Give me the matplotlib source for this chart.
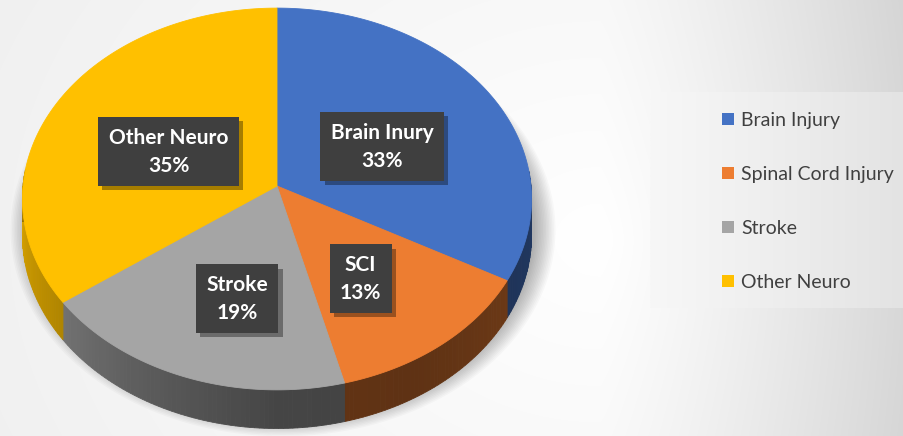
import numpy as np
import matplotlib
matplotlib.use("Agg")
import matplotlib.pyplot as plt
from matplotlib.patches import Polygon, Patch
import matplotlib.colors as mcolors
import matplotlib.patheffects as pe

# ---------------- data ----------------
categories = ["Brain Injury", "Spinal Cord Injury", "Stroke", "Other Neuro"]
data_labels = ["Brain Inury", "SCI", "Stroke", "Other Neuro"]
values = [33, 13, 19, 35]
colors = ["#4472C4", "#ED7D31", "#A5A5A5", "#FFC000"]

# ---------------- layout ----------------
W, H = 904, 436
fig = plt.figure(figsize=(W / 100, H / 100), dpi=100)
ax = fig.add_axes([0, 0, 1, 1])
ax.set_axis_off()

# background radial gradient
yy, xx = np.mgrid[0:H, 0:W]
d = np.hypot(xx - 600, (yy - 240) / 0.8)
L = 255 - 0.022 * d - 32 * np.clip((xx - 600) / 300, 0, None) ** 1.2
L = np.clip(L, 0, 255) / 255
ax.imshow(np.dstack([L, L, L]), extent=[0, W, H, 0], aspect="auto", zorder=0)

# legend panel gradient
lx0, lx1, ly0, ly1 = 650, W, 93, 308
gx = np.linspace(0, 1, 200)
gv = (247 - 20 * gx ** 1.1) / 255
panel = np.dstack([np.tile(gv, (20, 1))] * 3)
ax.imshow(panel, extent=[lx0, lx1, ly1, ly0], aspect="auto", zorder=1)
ax.set_xlim(0, W)
ax.set_ylim(H, 0)

# pseudo-3D pie geometry
cx, cy = 277, 186
a, b = 254, 190
k = 0.068
depth = 36


def proj(theta_deg, r=1.0, dz=0.0, dx=0.0):
    t = np.radians(theta_deg)
    x = r * np.cos(t)
    y = r * np.sin(t)
    s = 1.0 / (1.0 + k * y)
    return cx + dx + a * x * s, cy - b * y * s + dz * s


# soft shadow
full = np.linspace(0, 360, 361)
for r in np.linspace(1.07, 0.99, 14):
    X, Y = proj(full, r=r, dz=depth * 0.8, dx=6)
    ax.add_patch(Polygon(np.column_stack([X, Y]), closed=True,
                         facecolor="black", edgecolor="none", alpha=0.025, zorder=2))

# slice angles
total = float(sum(values))
starts, ends = [], []
ang = 90.0
for v in values:
    starts.append(ang)
    ang -= 360.0 * v / total
    ends.append(ang)

# side shading
shade_t = [-180, -150, -120, -90, -60, -30, 0]
shade_f = [0.85, 0.72, 0.56, 0.42, 0.40, 0.45, 0.50]


def shade(theta):
    t = ((theta + 180) % 360) - 180
    return np.interp(t, shade_t, shade_f)


for t0, t1, col in zip(starts, ends, colors):
    base = np.array(mcolors.to_rgb(col))
    n = max(4, int(abs(t1 - t0) / 1.0))
    th = np.linspace(t0, t1, n + 1)
    for j in range(n):
        tm = 0.5 * (th[j] + th[j + 1])
        if np.sin(np.radians(tm)) > 0.08:
            continue
        xt, yt = proj(np.array([th[j], th[j + 1]]))
        xb, yb = proj(np.array([th[j + 1], th[j]]), dz=depth)
        c = np.clip(base * shade(tm), 0, 1)
        ax.add_patch(Polygon(np.column_stack([np.r_[xt, xb], np.r_[yt, yb]]), closed=True,
                             facecolor=c, edgecolor=c, linewidth=0.6, zorder=3))

# top faces
for t0, t1, col in zip(starts, ends, colors):
    th = np.linspace(t0, t1, 200)
    X, Y = proj(th)
    pts = np.vstack([[cx, cy], np.column_stack([X, Y])])
    ax.add_patch(Polygon(pts, closed=True, facecolor=col, edgecolor=col,
                         linewidth=0.6, zorder=4))

# data labels
label_r = [0.47, 0.57, 0.59, 0.47]
label_dt = [-4.0, -3.8, 5.0, 4.0]
font_lab = ["Lato", "DejaVu Sans"]
for t0, t1, lab, v, r, dt in zip(starts, ends, data_labels, values, label_r, label_dt):
    tm = 0.5 * (t0 + t1) + dt
    X, Y = proj(tm, r=r)
    txt = f"{lab}\n{v}%"
    t = ax.text(X, Y, txt, ha="center", va="center", fontsize=15, fontweight="bold",
                family=font_lab, color="white", linespacing=1.5,
                bbox=dict(boxstyle="square,pad=0.5", facecolor="#3F3F3F",
                          edgecolor="none"), zorder=6)
    t.get_bbox_patch().set_path_effects(
        [pe.SimplePatchShadow(offset=(3, -3), shadow_rgbFace="black", alpha=0.35),
         pe.Normal()])

# legend
handles = [Patch(facecolor=c, edgecolor="none") for c in colors]
fig.legend(handles, categories, loc="upper left", bbox_to_anchor=(722 / W, 1 - 112 / H),
           frameon=False, handlelength=0.6, handleheight=0.6,
           handletextpad=0.4, labelspacing=1.9, borderpad=0, borderaxespad=0,
           labelcolor="#404040", prop={"family": ["Lato", "DejaVu Sans"], "size": 14})

fig.savefig("out.png", dpi=100)
